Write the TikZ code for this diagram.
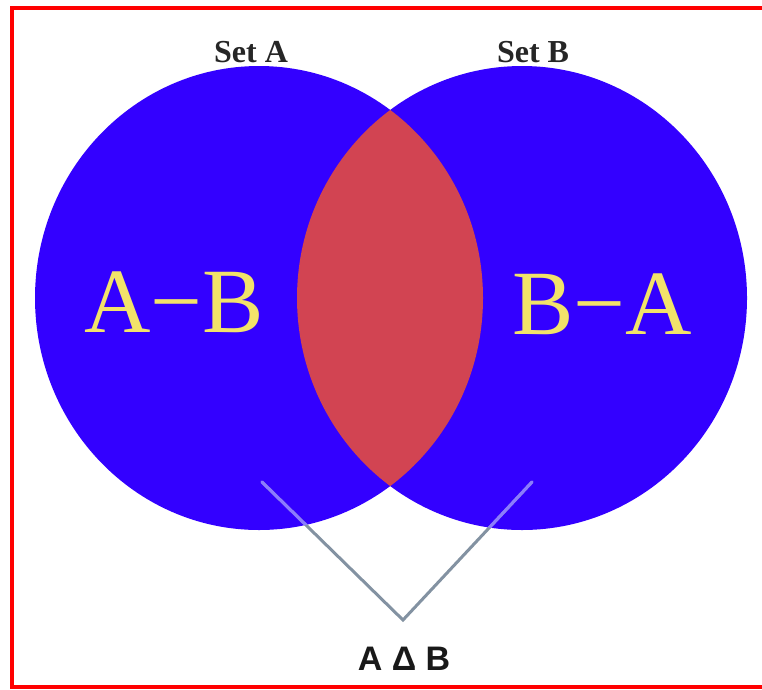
\documentclass[tikz,border=0pt]{standalone}
\usepackage{fontspec}
\setmainfont{Liberation Serif}
\newfontfamily\labelsans{Liberation Sans}
\definecolor{setblue}{HTML}{3300FF}
\definecolor{lensred}{HTML}{D24452}
\definecolor{diffyellow}{HTML}{F2E36A}
\definecolor{bracegray}{HTML}{8392A2}
\definecolor{bracelav}{HTML}{8C7CFF}
\definecolor{framered}{HTML}{FF0000}
\begin{document}
\begin{tikzpicture}[x=1pt,y=-1pt,
  settitle/.style={text=black!85, font=\bfseries\fontsize{32}{32}\selectfont, inner sep=0pt, anchor=base},
  difflabel/.style={text=diffyellow, font=\fontsize{92}{92}\selectfont, inner sep=0pt, anchor=base},
  symlabel/.style={text=black!90, font=\labelsans\bfseries\fontsize{34}{34}\selectfont, inner sep=0pt, anchor=base},
  braceline/.style={line width=3pt, line cap=round, line join=miter}]
\useasboundingbox (0,0) rectangle (762,689);
\fill[white] (0,0) rectangle (762,689);

% the two sets
\fill[setblue] (259,298) ellipse [x radius=224, y radius=232];
\fill[setblue] (522,298) ellipse [x radius=225, y radius=232];

% intersection lens
\begin{scope}
  \clip (259,298) ellipse [x radius=224, y radius=232];
  \fill[lensred] (522,298) ellipse [x radius=225, y radius=232];
\end{scope}

% bracket marking the symmetric difference
\coordinate (lt) at (262,482);
\coordinate (tip) at (403,620);
\coordinate (rt) at (532,482);
\draw[braceline, bracegray] (lt) -- (tip) -- (rt);
% the part of each arm lying over a set is lighter
\begin{scope}
  \clip (259,298) ellipse [x radius=224, y radius=232];
  \draw[braceline, bracelav] (lt) -- (tip);
\end{scope}
\begin{scope}
  \clip (522,298) ellipse [x radius=225, y radius=232];
  \draw[braceline, bracelav] (tip) -- (rt);
\end{scope}

% labels
\node[settitle] (ta) at (251,62) {Set A};
\node[settitle] (tb) at (533,62) {Set B};
\node[difflabel] (amb) at (174,332) {A−B};
\node[difflabel] (bma) at (602,334) {B−A};
\node[symlabel] (sym) at (404,670) {A Δ B};

% frame
\draw[framered, line width=4pt] (762,8) -- (12,8) -- (12,687) -- (762,687);
\end{tikzpicture}
\end{document}
